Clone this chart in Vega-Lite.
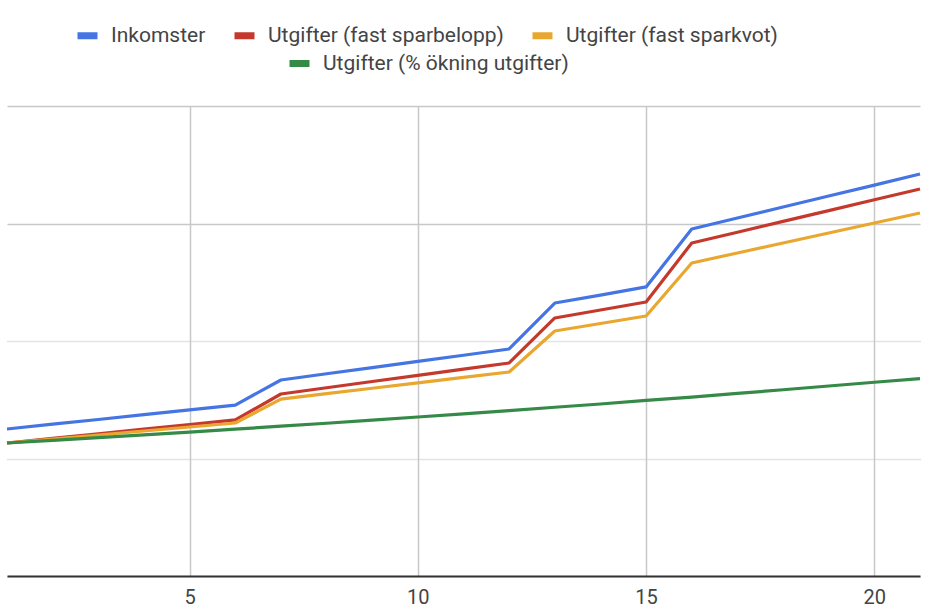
{
  "$schema": "https://vega.github.io/schema/vega-lite/v6.json",
  "width": 913,
  "height": 470,
  "autosize": {"type": "none"},
  "padding": {"left": 7, "top": 106, "right": 20, "bottom": 39},
  "background": "white",
  "config": {
    "view": {"stroke": null},
    "font": "Roboto",
    "legend": {
      "orient": "none",
      "direction": "horizontal",
      "title": null,
      "labelFont": "Roboto",
      "labelFontSize": 21,
      "labelColor": "#444444",
      "labelLimit": 0,
      "symbolType": "stroke",
      "symbolStrokeWidth": 7,
      "symbolSize": 400,
      "labelOffset": 10,
      "columnPadding": 14
    }
  },
  "datasets": {
    "d": [
      {"x": 1, "s": "Inkomster", "v": 1.251}, {"x": 2, "s": "Inkomster", "v": 1.292}, {"x": 3, "s": "Inkomster", "v": 1.332}, {"x": 4, "s": "Inkomster", "v": 1.373}, {"x": 5, "s": "Inkomster", "v": 1.414}, {"x": 6, "s": "Inkomster", "v": 1.455}, {"x": 7, "s": "Inkomster", "v": 1.668}, {"x": 8, "s": "Inkomster", "v": 1.721}, {"x": 9, "s": "Inkomster", "v": 1.774}, {"x": 10, "s": "Inkomster", "v": 1.826}, {"x": 11, "s": "Inkomster", "v": 1.879}, {"x": 12, "s": "Inkomster", "v": 1.932}, {"x": 13, "s": "Inkomster", "v": 2.323}, {"x": 14, "s": "Inkomster", "v": 2.391}, {"x": 15, "s": "Inkomster", "v": 2.46}, {"x": 16, "s": "Inkomster", "v": 2.953}, {"x": 17, "s": "Inkomster", "v": 3.047}, {"x": 18, "s": "Inkomster", "v": 3.14}, {"x": 19, "s": "Inkomster", "v": 3.234}, {"x": 20, "s": "Inkomster", "v": 3.327}, {"x": 21, "s": "Inkomster", "v": 3.421},
      {"x": 1, "s": "Utgifter (fast sparbelopp)", "v": 1.132}, {"x": 2, "s": "Utgifter (fast sparbelopp)", "v": 1.171}, {"x": 3, "s": "Utgifter (fast sparbelopp)", "v": 1.21}, {"x": 4, "s": "Utgifter (fast sparbelopp)", "v": 1.25}, {"x": 5, "s": "Utgifter (fast sparbelopp)", "v": 1.289}, {"x": 6, "s": "Utgifter (fast sparbelopp)", "v": 1.328}, {"x": 7, "s": "Utgifter (fast sparbelopp)", "v": 1.549}, {"x": 8, "s": "Utgifter (fast sparbelopp)", "v": 1.602}, {"x": 9, "s": "Utgifter (fast sparbelopp)", "v": 1.655}, {"x": 10, "s": "Utgifter (fast sparbelopp)", "v": 1.707}, {"x": 11, "s": "Utgifter (fast sparbelopp)", "v": 1.76}, {"x": 12, "s": "Utgifter (fast sparbelopp)", "v": 1.813}, {"x": 13, "s": "Utgifter (fast sparbelopp)", "v": 2.196}, {"x": 14, "s": "Utgifter (fast sparbelopp)", "v": 2.264}, {"x": 15, "s": "Utgifter (fast sparbelopp)", "v": 2.332}, {"x": 16, "s": "Utgifter (fast sparbelopp)", "v": 2.834}, {"x": 17, "s": "Utgifter (fast sparbelopp)", "v": 2.926}, {"x": 18, "s": "Utgifter (fast sparbelopp)", "v": 3.018}, {"x": 19, "s": "Utgifter (fast sparbelopp)", "v": 3.11}, {"x": 20, "s": "Utgifter (fast sparbelopp)", "v": 3.202}, {"x": 21, "s": "Utgifter (fast sparbelopp)", "v": 3.294},
      {"x": 1, "s": "Utgifter (fast sparkvot)", "v": 1.132}, {"x": 2, "s": "Utgifter (fast sparkvot)", "v": 1.166}, {"x": 3, "s": "Utgifter (fast sparkvot)", "v": 1.2}, {"x": 4, "s": "Utgifter (fast sparkvot)", "v": 1.234}, {"x": 5, "s": "Utgifter (fast sparkvot)", "v": 1.268}, {"x": 6, "s": "Utgifter (fast sparkvot)", "v": 1.302}, {"x": 7, "s": "Utgifter (fast sparkvot)", "v": 1.506}, {"x": 8, "s": "Utgifter (fast sparkvot)", "v": 1.552}, {"x": 9, "s": "Utgifter (fast sparkvot)", "v": 1.598}, {"x": 10, "s": "Utgifter (fast sparkvot)", "v": 1.644}, {"x": 11, "s": "Utgifter (fast sparkvot)", "v": 1.69}, {"x": 12, "s": "Utgifter (fast sparkvot)", "v": 1.736}, {"x": 13, "s": "Utgifter (fast sparkvot)", "v": 2.085}, {"x": 14, "s": "Utgifter (fast sparkvot)", "v": 2.149}, {"x": 15, "s": "Utgifter (fast sparkvot)", "v": 2.213}, {"x": 16, "s": "Utgifter (fast sparkvot)", "v": 2.664}, {"x": 17, "s": "Utgifter (fast sparkvot)", "v": 2.749}, {"x": 18, "s": "Utgifter (fast sparkvot)", "v": 2.834}, {"x": 19, "s": "Utgifter (fast sparkvot)", "v": 2.919}, {"x": 20, "s": "Utgifter (fast sparkvot)", "v": 3.004}, {"x": 21, "s": "Utgifter (fast sparkvot)", "v": 3.089},
      {"x": 1, "s": "Utgifter (% ökning utgifter)", "v": 1.132}, {"x": 2, "s": "Utgifter (% ökning utgifter)", "v": 1.155}, {"x": 3, "s": "Utgifter (% ökning utgifter)", "v": 1.178}, {"x": 4, "s": "Utgifter (% ökning utgifter)", "v": 1.201}, {"x": 5, "s": "Utgifter (% ökning utgifter)", "v": 1.225}, {"x": 6, "s": "Utgifter (% ökning utgifter)", "v": 1.25}, {"x": 7, "s": "Utgifter (% ökning utgifter)", "v": 1.275}, {"x": 8, "s": "Utgifter (% ökning utgifter)", "v": 1.3}, {"x": 9, "s": "Utgifter (% ökning utgifter)", "v": 1.326}, {"x": 10, "s": "Utgifter (% ökning utgifter)", "v": 1.353}, {"x": 11, "s": "Utgifter (% ökning utgifter)", "v": 1.38}, {"x": 12, "s": "Utgifter (% ökning utgifter)", "v": 1.407}, {"x": 13, "s": "Utgifter (% ökning utgifter)", "v": 1.436}, {"x": 14, "s": "Utgifter (% ökning utgifter)", "v": 1.464}, {"x": 15, "s": "Utgifter (% ökning utgifter)", "v": 1.494}, {"x": 16, "s": "Utgifter (% ökning utgifter)", "v": 1.523}, {"x": 17, "s": "Utgifter (% ökning utgifter)", "v": 1.554}, {"x": 18, "s": "Utgifter (% ökning utgifter)", "v": 1.585}, {"x": 19, "s": "Utgifter (% ökning utgifter)", "v": 1.617}, {"x": 20, "s": "Utgifter (% ökning utgifter)", "v": 1.649}, {"x": 21, "s": "Utgifter (% ökning utgifter)", "v": 1.68}
    ]
  },
  "data": {"name": "d"},
  "encoding": {
    "x": {
      "field": "x", "type": "quantitative",
      "scale": {"domain": [1, 21], "nice": false, "zero": false},
      "axis": {
        "title": null, "values": [5, 10, 15, 20], "ticks": false,
        "labelFont": "Roboto", "labelFontSize": 20, "labelColor": "#444444", "labelPadding": 11,
        "domainColor": "#333333", "domainWidth": 2,
        "grid": true, "gridColor": "#c8c8c8", "gridWidth": 1.5,
        "labelFlush": false
      }
    },
    "y": {
      "field": "v", "type": "quantitative",
      "scale": {"domain": [0, 4], "nice": false},
      "axis": {
        "title": null, "labels": false, "ticks": false, "domain": false,
        "values": [0, 1, 2, 3, 4],
        "grid": true, "gridColor": "#c8c8c8", "gridWidth": 1.5,
        "gridDash": {"condition": {"test": "datum.value <= 2", "value": [1, 1]}, "value": []}
      }
    }
  },
  "layer": [
    {
      "transform": [{"filter": {"field": "s", "oneOf": ["Inkomster", "Utgifter (fast sparbelopp)", "Utgifter (fast sparkvot)"]}}],
      "mark": {"type": "line", "strokeWidth": 3.2, "strokeJoin": "round"},
      "encoding": {
        "color": {
          "field": "s", "type": "nominal",
          "scale": {"domain": ["Inkomster", "Utgifter (fast sparbelopp)", "Utgifter (fast sparkvot)"], "range": ["#4574e3", "#c5392c", "#e9a72f"]},
          "legend": {"legendX": 67, "legendY": -84}
        }
      }
    },
    {
      "transform": [{"filter": {"field": "s", "equal": "Utgifter (% ökning utgifter)"}}],
      "mark": {"type": "line", "strokeWidth": 3.2, "strokeJoin": "round"},
      "encoding": {
        "color": {
          "field": "s", "type": "nominal",
          "scale": {"domain": ["Utgifter (% ökning utgifter)"], "range": ["#368a47"]},
          "legend": {"legendX": 279, "legendY": -56}
        }
      }
    }
  ],
  "resolve": {"scale": {"color": "independent"}}
}
